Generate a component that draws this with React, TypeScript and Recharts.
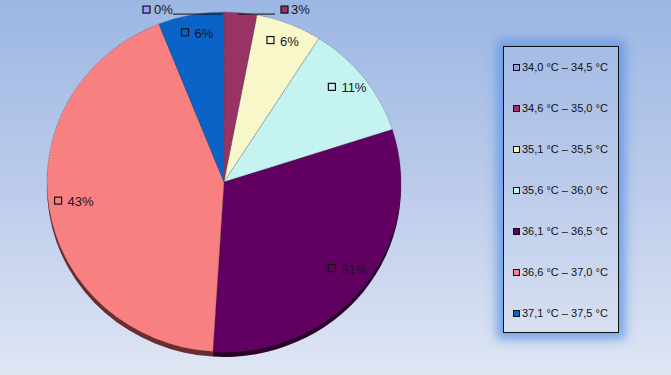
import React from 'react';
import { PieChart, Pie, Cell, Legend } from 'recharts';

// temperature bands and their share of readings (%)
const RANGES = [
  '34,0 °C – 34,5 °C',
  '34,6 °C – 35,0 °C',
  '35,1 °C – 35,5 °C',
  '35,6 °C – 36,0 °C',
  '36,1 °C – 36,5 °C',
  '36,6 °C – 37,0 °C',
  '37,1 °C – 37,5 °C',
];
const SHARES = [0, 3, 6, 11, 31, 43, 6];
const COLORS = ['#9999FF', '#993366', '#F7F7CA', '#C5F3F1', '#620062', '#F98080', '#0A64C8'];
const EDGE_COLORS = ['#4a4a80', '#4a1830', '#7a7a60', '#5f7878', '#2a002a', '#6a2c2c', '#05305f'];

const W = 671;
const H = 375;
const CX = 224;
const CY = 182;
const R = 177;
const SY = 0.96; // slight tilt of the pie
const DEPTH = 5;

const data = RANGES.map((name, i) => ({ name, value: SHARES[i] }));

const RAD = Math.PI / 180;

function Key({ x, y, fill }: { x: number; y: number; fill: string }) {
  return <rect x={x} y={y} width={7} height={7} fill={fill} stroke="#111" strokeWidth={1.2} />;
}

function renderLabel(props: any) {
  const { cx, cy, midAngle, outerRadius, percent, index } = props;
  const txt = `${Math.round(percent * 100)}%`;
  const fill = COLORS[index];
  const topY = cy - outerRadius * SY + 2;
  const font = { fontSize: 13, fontFamily: 'Liberation Sans, Arial, sans-serif', fill: '#151525' };
  if (index === 0) {
    return (
      <g>
        <line x1={cx - 1} y1={topY} x2={cx - 51} y2={topY} stroke="#111" strokeWidth={1} />
        <Key x={cx - 81} y={topY - 8} fill={fill} />
        <text x={cx - 70} y={topY} {...font}>{txt}</text>
      </g>
    );
  }
  if (index === 1) {
    return (
      <g>
        <line x1={cx + 14} y1={topY} x2={cx + 51} y2={topY} stroke="#111" strokeWidth={1} />
        <Key x={cx + 57} y={topY - 8} fill={fill} />
        <text x={cx + 67} y={topY} {...font}>{txt}</text>
      </g>
    );
  }
  const r = outerRadius * 0.87;
  const x = cx + r * Math.cos(-midAngle * RAD);
  const y = cy + r * Math.sin(-midAngle * RAD) * SY - 4;
  const wTxt = txt.length * 7.2;
  const left = x - (7 + 6 + wTxt) / 2;
  return (
    <g>
      <Key x={left} y={y - 4} fill={fill} />
      <text x={left + 13} y={y + 5} {...font}>{txt}</text>
    </g>
  );
}

function LegendBox() {
  return (
    <div style={{ width: 114, height: 285, border: '1px solid #111', boxShadow: '0 0 10px 6px rgba(95,150,230,0.85)', position: 'relative' }}>
      {RANGES.map((name, i) => (
        <div key={name} style={{ position: 'absolute', left: 9, top: 14 + i * 41, display: 'flex', alignItems: 'center', fontSize: 11, fontFamily: 'Liberation Sans, Arial, sans-serif', color: '#111', whiteSpace: 'nowrap' }}>
          <span style={{ display: 'inline-block', width: 5, height: 5, background: COLORS[i], border: '1px solid #111', marginRight: 2 }} />
          {name}
        </div>
      ))}
    </div>
  );
}

export default function App() {
  const css = `
    body { margin: 0; }
    .pie-face .recharts-sector { transform-box: view-box; transform-origin: ${CX}px ${CY}px; transform: scaleY(${SY}); }
    .pie-edge .recharts-sector { transform-box: view-box; transform-origin: ${CX}px ${CY + DEPTH}px; transform: scaleY(${SY}); }
  `;
  return (
    <div style={{ width: W, height: H, background: 'linear-gradient(180deg, #9cb7e3 0%, #bccbeb 50%, #dfe6f3 100%)', position: 'relative' }}>
      <style>{css}</style>
      <PieChart width={W} height={H} margin={{ top: 0, right: 0, bottom: 0, left: 0 }}>
        <Pie
          className="pie-edge"
          data={data}
          dataKey="value"
          cx={CX}
          cy={CY + DEPTH}
          outerRadius={R}
          startAngle={90}
          endAngle={-270}
          stroke="none"
          isAnimationActive={false}
        >
          {data.map((d, i) => <Cell key={d.name} fill={EDGE_COLORS[i]} />)}
        </Pie>
        <Pie
          className="pie-face"
          data={data}
          dataKey="value"
          cx={CX}
          cy={CY}
          outerRadius={R}
          startAngle={90}
          endAngle={-270}
          stroke="rgba(70,70,90,0.55)"
          strokeWidth={0.7}
          strokeDasharray="2 1"
          label={renderLabel}
          labelLine={false}
          isAnimationActive={false}
        >
          {data.map((d, i) => <Cell key={d.name} fill={COLORS[i]} />)}
        </Pie>
        <Legend
          content={() => <LegendBox />}
          wrapperStyle={{ position: 'absolute', left: 503, top: 46, width: 116, height: 287 }}
        />
      </PieChart>
    </div>
  );
}
